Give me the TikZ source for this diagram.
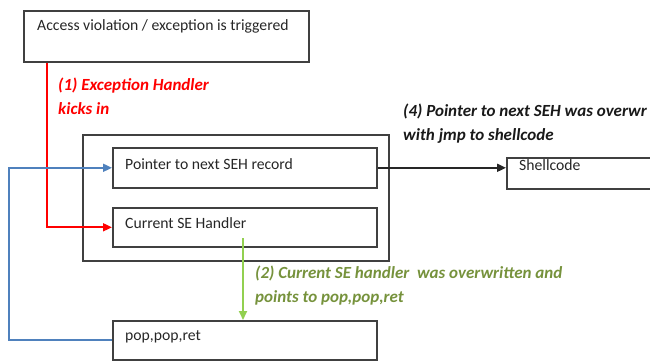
\documentclass[tikz,border=0pt]{standalone}
\usepackage{fontspec}
\setmainfont{Carlito}
\usetikzlibrary{arrows.meta}
\definecolor{boxgray}{RGB}{64,64,64}
\definecolor{lblue}{RGB}{79,129,189}
\definecolor{lgreen}{RGB}{146,208,80}
\definecolor{tgreen}{RGB}{118,146,60}
\definecolor{lred}{RGB}{255,0,0}
\tikzset{
  box/.style={draw=boxgray, line width=1.6pt, rectangle, inner sep=0pt},
  boxtext/.style={anchor=west, inner sep=0pt, font=\fontsize{15.7}{18}\selectfont, text=black!85},
  lbl/.style={anchor=north west, inner sep=0pt, align=left, font=\fontsize{17}{23.5}\selectfont\bfseries\itshape},
  conn/.style={line width=1.8pt, -{Triangle[length=9pt,width=8pt]}}
}
\begin{document}
\begin{tikzpicture}[x=1pt,y=-1pt]
\useasboundingbox (0,0) rectangle (650,361);
\clip (0,0) rectangle (650,361);
% boxes
\node[box, anchor=north west, minimum width=285, minimum height=51] (top) at (23,10) {};
\node[boxtext] (toptext) at (37,26) {Access violation / exception is triggered};
\node[box, anchor=north west, minimum width=306, minimum height=126] (outer) at (82,134) {};
\node[box, anchor=north west, minimum width=264, minimum height=40] (ptr) at (112,147) {};
\node[boxtext] (ptrtext) at (125,164) {Pointer to next SEH record};
\node[box, anchor=north west, minimum width=264, minimum height=39] (cur) at (112,207) {};
\node[boxtext] (curtext) at (125,223) {Current SE Handler};
\node[box, anchor=north west, minimum width=264, minimum height=39] (pop) at (112,320) {};
\node[boxtext] (poptext) at (125,337) {pop,pop,ret};
\node[box, anchor=north west, minimum width=160, minimum height=31] (shell) at (506,157) {};
\node[boxtext] (shelltext) at (519,165) {Shellcode};
% connectors
\coordinate (rx) at (47,0);
\coordinate (bx) at (9,0);
\coordinate (gs) at (243,238);
\draw[conn, draw=lred, -{Triangle[length=9pt,width=8pt,fill=lred]}] (top.south -| rx) |- (cur.west);
\draw[conn, draw=lblue] (pop.west) -- (pop.west -| bx) |- (ptr.west);
\draw[conn, draw=lgreen] (gs) -- (gs |- pop.north);
\draw[conn, draw=black!85] (ptr.east) -- (ptr.east -| shell.west);
% labels
\node[lbl, text=lred] (l1) at (58,78) {(1) Exception Handler\\kicks in};
\node[lbl, text=black!90] (l4) at (403,104) {(4) Pointer to next SEH was overwr\\with jmp to shellcode};
\node[lbl, text=tgreen] (l2) at (255,266) {(2) Current SE handler\ \ was overwritten and\\points to pop,pop,ret};
\end{tikzpicture}
\end{document}
